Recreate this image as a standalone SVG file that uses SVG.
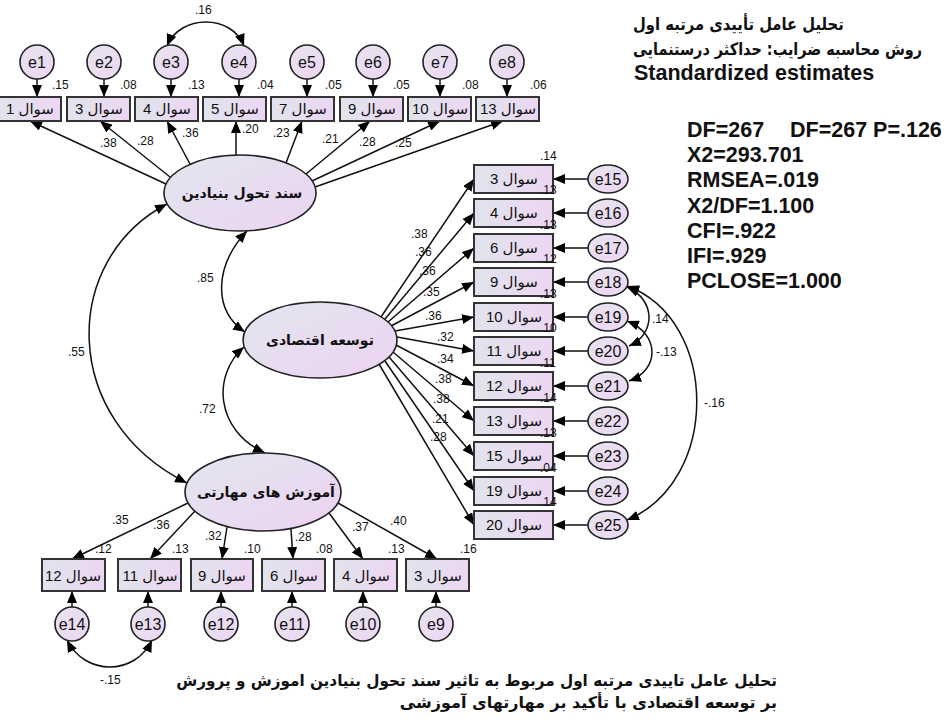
<svg xmlns="http://www.w3.org/2000/svg" width="950" height="720" viewBox="0 0 950 720">
<defs>
<linearGradient id="gBox" x1="0" y1="0" x2="1" y2="0"><stop offset="0" stop-color="#e0e4ec"/><stop offset="1" stop-color="#edd6f3"/></linearGradient>
<linearGradient id="gEll" x1="0" y1="0" x2="1" y2="1"><stop offset="0" stop-color="#e2e6ee"/><stop offset="1" stop-color="#edd3f2"/></linearGradient>
<linearGradient id="gErr" x1="0" y1="0" x2="1" y2="1"><stop offset="0" stop-color="#e6e3f0"/><stop offset="1" stop-color="#eed6f2"/></linearGradient>
<marker id="ah" viewBox="0 0 12 10" refX="12" refY="5" markerWidth="12" markerHeight="10" markerUnits="userSpaceOnUse" orient="auto-start-reverse"><path d="M0,0 L12,5 L0,10 z" fill="#000"/></marker>
</defs>
<style>
.box{fill:url(#gBox);stroke:#333;stroke-width:2}
.lat{fill:url(#gEll);stroke:#222;stroke-width:1.6}
.err{fill:url(#gErr);stroke:#222;stroke-width:1.6}
.ln{fill:none;stroke:#111;stroke-width:1.5;marker-end:url(#ah)}
.cv{fill:none;stroke:#111;stroke-width:1.5;marker-end:url(#ah);marker-start:url(#ah)}
.bt{font-family:"Liberation Sans","DejaVu Sans",sans-serif;font-size:15px;fill:#111;text-anchor:middle}
.et{font-family:"Liberation Sans",Arial,sans-serif;font-size:16px;fill:#111;text-anchor:middle}
.num{font-family:"Liberation Sans",Arial,sans-serif;font-size:12px;fill:#111}
.lt{font-family:"DejaVu Sans",sans-serif;font-size:14px;font-weight:bold;fill:#111;text-anchor:middle}
.st{font-family:"Liberation Sans",Arial,sans-serif;font-size:21.5px;font-weight:bold;fill:#111}
.ar{font-family:"DejaVu Sans",sans-serif;font-weight:bold;fill:#111}
</style>
<rect width="950" height="720" fill="#fff"/>

<g id="connectors">
<line class="ln" x1="37" y1="79" x2="37" y2="97"/>
<line class="ln" x1="104" y1="79" x2="104" y2="97"/>
<line class="ln" x1="171" y1="79" x2="171" y2="97"/>
<line class="ln" x1="239" y1="79" x2="239" y2="97"/>
<line class="ln" x1="307" y1="79" x2="307" y2="97"/>
<line class="ln" x1="373" y1="79" x2="373" y2="97"/>
<line class="ln" x1="440" y1="79" x2="440" y2="97"/>
<line class="ln" x1="507" y1="79" x2="507" y2="97"/>
<line class="ln" x1="166" y1="184" x2="30" y2="121"/>
<line class="ln" x1="170" y1="177" x2="100" y2="121"/>
<line class="ln" x1="190" y1="164" x2="167" y2="121"/>
<line class="ln" x1="236" y1="155" x2="236" y2="121"/>
<line class="ln" x1="286" y1="163" x2="302" y2="121"/>
<line class="ln" x1="306" y1="174" x2="370" y2="121"/>
<line class="ln" x1="312" y1="181" x2="440" y2="121"/>
<line class="ln" x1="315" y1="187" x2="503" y2="121"/>
<line class="ln" x1="381" y1="317" x2="474" y2="179"/>
<line class="ln" x1="385" y1="319" x2="474" y2="213"/>
<line class="ln" x1="388" y1="322" x2="474" y2="248"/>
<line class="ln" x1="391" y1="326" x2="474" y2="282"/>
<line class="ln" x1="395" y1="331" x2="474" y2="317"/>
<line class="ln" x1="397" y1="337" x2="474" y2="351"/>
<line class="ln" x1="396" y1="345" x2="474" y2="386"/>
<line class="ln" x1="393" y1="352" x2="474" y2="421"/>
<line class="ln" x1="389" y1="357" x2="474" y2="456"/>
<line class="ln" x1="385" y1="361" x2="474" y2="491"/>
<line class="ln" x1="379" y1="364" x2="474" y2="525"/>
<line class="ln" x1="588" y1="179" x2="553" y2="179"/>
<line class="ln" x1="588" y1="213" x2="553" y2="213"/>
<line class="ln" x1="588" y1="248" x2="553" y2="248"/>
<line class="ln" x1="588" y1="282" x2="553" y2="282"/>
<line class="ln" x1="588" y1="317" x2="553" y2="317"/>
<line class="ln" x1="588" y1="351" x2="553" y2="351"/>
<line class="ln" x1="588" y1="386" x2="553" y2="386"/>
<line class="ln" x1="588" y1="421" x2="553" y2="421"/>
<line class="ln" x1="588" y1="456" x2="553" y2="456"/>
<line class="ln" x1="588" y1="491" x2="553" y2="491"/>
<line class="ln" x1="588" y1="525" x2="553" y2="525"/>
<line class="ln" x1="188" y1="503" x2="72" y2="559"/>
<line class="ln" x1="195" y1="511" x2="150" y2="559"/>
<line class="ln" x1="227" y1="527" x2="222" y2="559"/>
<line class="ln" x1="291" y1="529" x2="293" y2="559"/>
<line class="ln" x1="329" y1="513" x2="363" y2="559"/>
<line class="ln" x1="338" y1="503" x2="437" y2="559"/>
<line class="ln" x1="72" y1="607" x2="72" y2="591"/>
<line class="ln" x1="148" y1="607" x2="148" y2="591"/>
<line class="ln" x1="221" y1="607" x2="221" y2="591"/>
<line class="ln" x1="292" y1="607" x2="292" y2="591"/>
<line class="ln" x1="363" y1="607" x2="363" y2="591"/>
<line class="ln" x1="436" y1="607" x2="436" y2="591"/>
<path class="cv" d="M167,46 C180,14 232,14 244,46"/>
<path class="cv" d="M67,640 C85,676 135,676 152,640"/>
<path class="cv" d="M627,287 C656,300 656,334 629,346"/>
<path class="cv" d="M627,321 C660,334 660,370 629,381"/>
<path class="cv" d="M627,286 C720,320 720,482 627,520"/>
<path class="cv" d="M247,231 C215,265 212,310 245,332"/>
<path class="cv" d="M244,347 C212,375 215,430 265,453"/>
<path class="cv" d="M167,204 C60,260 60,420 187,483"/>
<text class="num" x="195" y="14">.16</text>
<text class="num" x="100" y="147">.38</text>
<text class="num" x="137" y="145">.28</text>
<text class="num" x="182" y="137">.36</text>
<text class="num" x="242" y="133">.20</text>
<text class="num" x="273" y="137">.23</text>
<text class="num" x="322" y="143">.21</text>
<text class="num" x="359" y="146">.28</text>
<text class="num" x="395" y="147">.25</text>
<text class="num" x="197" y="282">.85</text>
<text class="num" x="199" y="413">.72</text>
<text class="num" x="68" y="356">.55</text>
<text class="num" x="411" y="238">.38</text>
<text class="num" x="415" y="256">.36</text>
<text class="num" x="419" y="275">.36</text>
<text class="num" x="423" y="296">.35</text>
<text class="num" x="425" y="320">.36</text>
<text class="num" x="437" y="341">.32</text>
<text class="num" x="437" y="363">.34</text>
<text class="num" x="435" y="383">.38</text>
<text class="num" x="433" y="403">.38</text>
<text class="num" x="432" y="423">.21</text>
<text class="num" x="430" y="441">.28</text>
<text class="num" x="652" y="323">.14</text>
<text class="num" x="656" y="356">-.13</text>
<text class="num" x="704" y="407">-.16</text>
<text class="num" x="112" y="524">.35</text>
<text class="num" x="153" y="529">.36</text>
<text class="num" x="205" y="540">.32</text>
<text class="num" x="295" y="541">.28</text>
<text class="num" x="352" y="531">.37</text>
<text class="num" x="390" y="525">.40</text>
<text class="num" x="100" y="684">-.15</text>
</g>

<g id="e1"><circle class="err" cx="37" cy="62" r="17"/><text class="et" x="37" y="68">e1</text></g>
<g id="e2"><circle class="err" cx="104" cy="62" r="17"/><text class="et" x="104" y="68">e2</text></g>
<g id="e3"><circle class="err" cx="171" cy="62" r="17"/><text class="et" x="171" y="68">e3</text></g>
<g id="e4"><circle class="err" cx="239" cy="62" r="17"/><text class="et" x="239" y="68">e4</text></g>
<g id="e5"><circle class="err" cx="307" cy="62" r="17"/><text class="et" x="307" y="68">e5</text></g>
<g id="e6"><circle class="err" cx="373" cy="62" r="17"/><text class="et" x="373" y="68">e6</text></g>
<g id="e7"><circle class="err" cx="440" cy="62" r="17"/><text class="et" x="440" y="68">e7</text></g>
<g id="e8"><circle class="err" cx="507" cy="62" r="17"/><text class="et" x="507" y="68">e8</text></g>

<g id="t1"><rect class="box" x="-2" y="97" width="63" height="24"/><text class="bt" x="30" y="114">سوال 1</text><text class="num" x="52" y="89">.15</text></g>
<g id="t3"><rect class="box" x="67" y="97" width="63" height="24"/><text class="bt" x="99" y="114">سوال 3</text><text class="num" x="120" y="89">.08</text></g>
<g id="t4"><rect class="box" x="135" y="97" width="63" height="24"/><text class="bt" x="167" y="114">سوال 4</text><text class="num" x="188" y="89">.13</text></g>
<g id="t5"><rect class="box" x="203" y="97" width="63" height="24"/><text class="bt" x="235" y="114">سوال 5</text><text class="num" x="257" y="89">.04</text></g>
<g id="t7"><rect class="box" x="271" y="97" width="63" height="24"/><text class="bt" x="303" y="114">سوال 7</text><text class="num" x="325" y="89">.05</text></g>
<g id="t9"><rect class="box" x="340" y="97" width="63" height="24"/><text class="bt" x="372" y="114">سوال 9</text><text class="num" x="393" y="89">.05</text></g>
<g id="t10"><rect class="box" x="408" y="97" width="63" height="24"/><text class="bt" x="440" y="114">سوال 10</text><text class="num" x="462" y="89">.08</text></g>
<g id="t13"><rect class="box" x="476" y="97" width="63" height="24"/><text class="bt" x="508" y="114">سوال 13</text><text class="num" x="530" y="89">.06</text></g>

<g id="F1"><ellipse class="lat" cx="240" cy="193" rx="76" ry="38"/><text class="lt" x="242" y="198">سند تحول بنیادین</text></g>
<g id="F2"><ellipse class="lat" cx="320" cy="340" rx="77" ry="38"/><text class="lt" x="320" y="345">توسعه اقتصادی</text></g>
<g id="F3"><ellipse class="lat" cx="263" cy="492" rx="78" ry="39"/><text class="lt" x="266" y="497">آموزش های مهارتی</text></g>

<g id="r3"><rect class="box" x="474" y="165" width="79" height="28"/><text class="bt" x="514" y="184">سوال 3</text><text class="num" x="540" y="160">.14</text></g>
<g id="r4"><rect class="box" x="474" y="199" width="79" height="28"/><text class="bt" x="514" y="218">سوال 4</text><text class="num" x="540" y="194">.13</text></g>
<g id="r6"><rect class="box" x="474" y="234" width="79" height="28"/><text class="bt" x="514" y="253">سوال 6</text><text class="num" x="540" y="229">.13</text></g>
<g id="r9"><rect class="box" x="474" y="268" width="79" height="28"/><text class="bt" x="514" y="287">سوال 9</text><text class="num" x="540" y="263">.12</text></g>
<g id="r10"><rect class="box" x="474" y="303" width="79" height="28"/><text class="bt" x="514" y="322">سوال 10</text><text class="num" x="540" y="298">.13</text></g>
<g id="r11"><rect class="box" x="474" y="337" width="79" height="28"/><text class="bt" x="514" y="356">سوال 11</text><text class="num" x="540" y="332">.10</text></g>
<g id="r12"><rect class="box" x="474" y="372" width="79" height="28"/><text class="bt" x="514" y="391">سوال 12</text><text class="num" x="540" y="367">.11</text></g>
<g id="r13"><rect class="box" x="474" y="407" width="79" height="28"/><text class="bt" x="514" y="426">سوال 13</text><text class="num" x="540" y="402">.14</text></g>
<g id="r15"><rect class="box" x="474" y="442" width="79" height="28"/><text class="bt" x="514" y="461">سوال 15</text><text class="num" x="540" y="437">.13</text></g>
<g id="r19"><rect class="box" x="474" y="477" width="79" height="28"/><text class="bt" x="514" y="496">سوال 19</text><text class="num" x="540" y="472">.04</text></g>
<g id="r20"><rect class="box" x="474" y="511" width="79" height="28"/><text class="bt" x="514" y="530">سوال 20</text><text class="num" x="540" y="506">.14</text></g>

<g id="e15"><ellipse class="err" cx="608" cy="179" rx="20" ry="14"/><text class="et" x="608" y="185">e15</text></g>
<g id="e16"><ellipse class="err" cx="608" cy="213" rx="20" ry="14"/><text class="et" x="608" y="219">e16</text></g>
<g id="e17"><ellipse class="err" cx="608" cy="248" rx="20" ry="14"/><text class="et" x="608" y="254">e17</text></g>
<g id="e18"><ellipse class="err" cx="608" cy="282" rx="20" ry="14"/><text class="et" x="608" y="288">e18</text></g>
<g id="e19"><ellipse class="err" cx="608" cy="317" rx="20" ry="14"/><text class="et" x="608" y="323">e19</text></g>
<g id="e20"><ellipse class="err" cx="608" cy="351" rx="20" ry="14"/><text class="et" x="608" y="357">e20</text></g>
<g id="e21"><ellipse class="err" cx="608" cy="386" rx="20" ry="14"/><text class="et" x="608" y="392">e21</text></g>
<g id="e22"><ellipse class="err" cx="608" cy="421" rx="20" ry="14"/><text class="et" x="608" y="427">e22</text></g>
<g id="e23"><ellipse class="err" cx="608" cy="456" rx="20" ry="14"/><text class="et" x="608" y="462">e23</text></g>
<g id="e24"><ellipse class="err" cx="608" cy="491" rx="20" ry="14"/><text class="et" x="608" y="497">e24</text></g>
<g id="e25"><ellipse class="err" cx="608" cy="525" rx="20" ry="14"/><text class="et" x="608" y="531">e25</text></g>

<g id="b12"><rect class="box" x="42" y="559" width="63" height="32"/><text class="bt" x="73" y="581">سوال 12</text><text class="num" x="95" y="553">.12</text></g>
<g id="b11"><rect class="box" x="118" y="559" width="63" height="32"/><text class="bt" x="150" y="581">سوال 11</text><text class="num" x="172" y="553">.13</text></g>
<g id="b9"><rect class="box" x="191" y="559" width="62" height="32"/><text class="bt" x="222" y="581">سوال 9</text><text class="num" x="244" y="553">.10</text></g>
<g id="b6"><rect class="box" x="262" y="559" width="63" height="32"/><text class="bt" x="294" y="581">سوال 6</text><text class="num" x="316" y="553">.08</text></g>
<g id="b4"><rect class="box" x="334" y="559" width="63" height="32"/><text class="bt" x="366" y="581">سوال 4</text><text class="num" x="388" y="553">.13</text></g>
<g id="b3"><rect class="box" x="406" y="559" width="63" height="32"/><text class="bt" x="438" y="581">سوال 3</text><text class="num" x="460" y="553">.16</text></g>

<g id="e14"><circle class="err" cx="72" cy="624" r="17"/><text class="et" x="72" y="630">e14</text></g>
<g id="e13"><circle class="err" cx="148" cy="624" r="17"/><text class="et" x="148" y="630">e13</text></g>
<g id="e12"><circle class="err" cx="221" cy="624" r="17"/><text class="et" x="221" y="630">e12</text></g>
<g id="e11"><circle class="err" cx="292" cy="624" r="17"/><text class="et" x="292" y="630">e11</text></g>
<g id="e10"><circle class="err" cx="363" cy="624" r="17"/><text class="et" x="363" y="630">e10</text></g>
<g id="e9"><circle class="err" cx="436" cy="624" r="17"/><text class="et" x="436" y="630">e9</text></g>

<g id="title">
<text class="ar" font-size="17" transform="translate(633,30) scale(0.87,1)">تحلیل عامل تأییدی مرتبه اول</text>
<text class="ar" font-size="17" transform="translate(633,55) scale(0.85,1)">روش محاسبه ضرایب: حداکثر درستنمایی</text>
<text class="st" x="634" y="80" font-size="22">Standardized estimates</text>
</g>
<g id="fit">
<text class="st" x="687" y="137"><tspan x="687">DF=267</tspan><tspan x="790">DF=267 P=.126</tspan></text>
<text class="st" x="687" y="162">X2=293.701</text>
<text class="st" x="687" y="187">RMSEA=.019</text>
<text class="st" x="687" y="213">X2/DF=1.100</text>
<text class="st" x="687" y="238">CFI=.922</text>
<text class="st" x="687" y="263">IFI=.929</text>
<text class="st" x="687" y="288">PCLOSE=1.000</text>
</g>
<g id="caption">
<text class="ar" font-size="16" text-anchor="end" transform="translate(777,686) scale(0.952,1)">تحلیل عامل تاییدی مرتبه اول  مربوط به تاثیر سند تحول بنیادین اموزش و پرورش</text>
<text class="ar" font-size="16" text-anchor="end" transform="translate(777,708)">بر توسعه اقتصادی با تأکید بر مهارتهای آموزشی</text>
</g>
</svg>
